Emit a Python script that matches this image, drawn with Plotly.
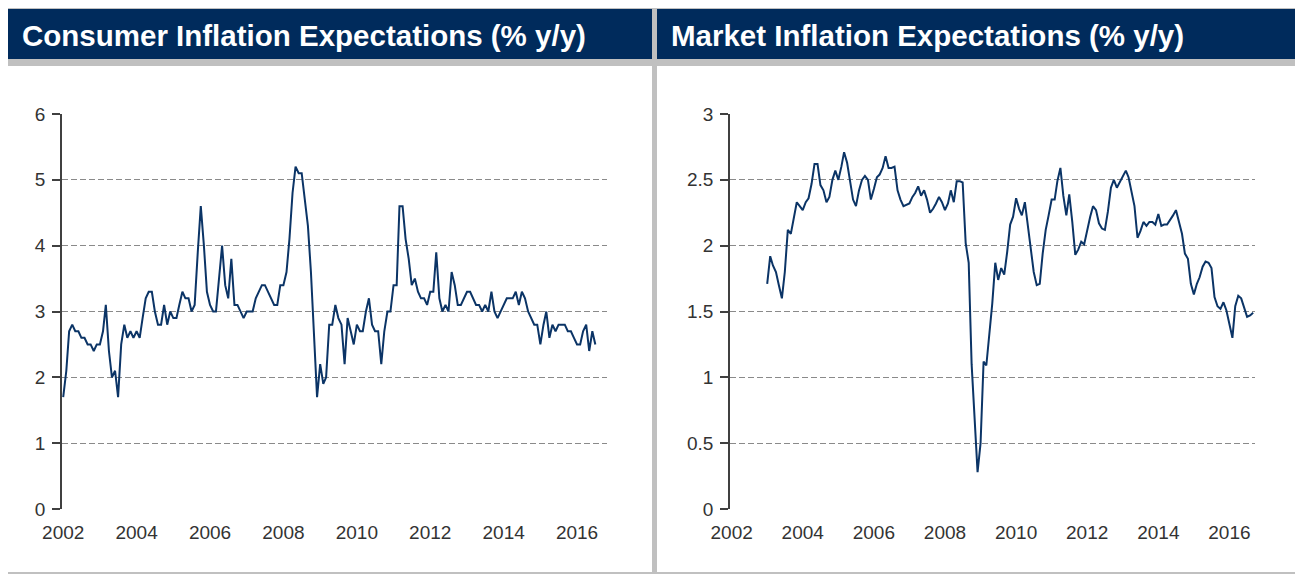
import pandas as pd
import plotly.graph_objects as go

# ---------------- data ----------------
consumer_start = "2002-01-01"
consumer_values = [
    1.7, 2.1, 2.7, 2.8, 2.7, 2.7, 2.6, 2.6, 2.5, 2.5, 2.4, 2.5,
    2.5, 2.7, 3.1, 2.4, 2.0, 2.1, 1.7, 2.5, 2.8, 2.6, 2.7, 2.6,
    2.7, 2.6, 2.9, 3.2, 3.3, 3.3, 3.0, 2.8, 2.8, 3.1, 2.8, 3.0,
    2.9, 2.9, 3.1, 3.3, 3.2, 3.2, 3.0, 3.1, 3.9, 4.6, 4.0, 3.3,
    3.1, 3.0, 3.0, 3.5, 4.0, 3.4, 3.2, 3.8, 3.1, 3.1, 3.0, 2.9,
    3.0, 3.0, 3.0, 3.2, 3.3, 3.4, 3.4, 3.3, 3.2, 3.1, 3.1, 3.4,
    3.4, 3.6, 4.1, 4.8, 5.2, 5.1, 5.1, 4.7, 4.3, 3.6, 2.6, 1.7,
    2.2, 1.9, 2.0, 2.8, 2.8, 3.1, 2.9, 2.8, 2.2, 2.9, 2.7, 2.5,
    2.8, 2.7, 2.7, 3.0, 3.2, 2.8, 2.7, 2.7, 2.2, 2.7, 3.0, 3.0,
    3.4, 3.4, 4.6, 4.6, 4.1, 3.8, 3.4, 3.5, 3.3, 3.2, 3.2, 3.1,
    3.3, 3.3, 3.9, 3.2, 3.0, 3.1, 3.0, 3.6, 3.4, 3.1, 3.1, 3.2,
    3.3, 3.3, 3.2, 3.1, 3.1, 3.0, 3.1, 3.0, 3.3, 3.0, 2.9, 3.0,
    3.1, 3.2, 3.2, 3.2, 3.3, 3.1, 3.3, 3.2, 3.0, 2.9, 2.8, 2.8,
    2.5, 2.8, 3.0, 2.6, 2.8, 2.7, 2.8, 2.8, 2.8, 2.7, 2.7, 2.6,
    2.5, 2.5, 2.7, 2.8, 2.4, 2.7, 2.5,
]

market_start = "2003-01-01"
market_values = [
    1.71, 1.92, 1.85, 1.80, 1.70, 1.60, 1.80, 2.12, 2.09, 2.22, 2.33, 2.30,
    2.27, 2.33, 2.36, 2.47, 2.62, 2.62, 2.46, 2.42, 2.33, 2.37, 2.50, 2.57,
    2.50, 2.60, 2.71, 2.63, 2.50, 2.35, 2.30, 2.42, 2.50, 2.53, 2.50, 2.35,
    2.43, 2.52, 2.54, 2.59, 2.68, 2.59, 2.59, 2.60, 2.42, 2.35, 2.30, 2.31,
    2.32, 2.37, 2.40, 2.45, 2.38, 2.42, 2.35, 2.25, 2.28, 2.32, 2.37, 2.33,
    2.27, 2.32, 2.42, 2.33, 2.49, 2.49, 2.48, 2.02, 1.87, 1.10, 0.70, 0.28,
    0.50, 1.12, 1.09, 1.33, 1.56, 1.87, 1.74, 1.83, 1.78, 1.95, 2.16, 2.22,
    2.36, 2.28, 2.23, 2.33, 2.16, 1.95, 1.80, 1.70, 1.71, 1.94, 2.12, 2.23,
    2.35, 2.35, 2.49, 2.59, 2.38, 2.23, 2.39, 2.18, 1.93, 1.97, 2.03, 2.01,
    2.13, 2.22, 2.30, 2.27, 2.17, 2.13, 2.12, 2.26, 2.44, 2.50, 2.44, 2.48,
    2.53, 2.57, 2.52, 2.41, 2.30, 2.06, 2.11, 2.18, 2.15, 2.18, 2.18, 2.16,
    2.24, 2.15, 2.16, 2.16, 2.19, 2.23, 2.27, 2.19, 2.09, 1.94, 1.90, 1.71,
    1.63, 1.71, 1.76, 1.84, 1.88, 1.87, 1.83, 1.61, 1.54, 1.52, 1.57, 1.51,
    1.40, 1.30, 1.54, 1.62, 1.60, 1.52, 1.46, 1.47, 1.49,
]

left_title = "Consumer Inflation Expectations (% y/y)"
right_title = "Market Inflation Expectations (% y/y)"
left_yticks = [0, 1, 2, 3, 4, 5, 6]
right_yticks = [0, 0.5, 1, 1.5, 2, 2.5, 3]
right_yticklabels = ["0", "0.5", "1", "1.5", "2", "2.5", "3"]

consumer_dates = pd.date_range(consumer_start, periods=len(consumer_values), freq="MS")
market_dates = pd.date_range(market_start, periods=len(market_values), freq="MS")

# ---------------- styling ----------------
# the page places the figure 8px in from the top-left corner
OFF = 8
W, H = 1303 - OFF, 574 - OFF
NAVY = "#002b5c"
LINE = "#0b3466"
GRAY_BG = "#c0c0c0"
GRID = "#8a8a8a"
AXIS = "#404040"
TXT = "#333333"
FONT = "Liberation Sans, Arial, sans-serif"


def px(x):
    return (x - OFF) / W


def py(y):
    return 1 - (y - OFF) / H


fig = go.Figure()
fig.add_trace(go.Scatter(x=consumer_dates, y=consumer_values, mode="lines",
                         line=dict(color=LINE, width=2), xaxis="x", yaxis="y",
                         showlegend=False, hoverinfo="x+y"))
fig.add_trace(go.Scatter(x=market_dates, y=market_values, mode="lines",
                         line=dict(color=LINE, width=2), xaxis="x2", yaxis="y2",
                         showlegend=False, hoverinfo="x+y"))

xcommon = dict(type="date", tickformat="%Y", dtick="M24", tick0="2002-01-01",
               showgrid=False, showline=False, ticks="", zeroline=False,
               automargin=False,
               tickfont=dict(family=FONT, size=19, color=TXT), ticklabelstandoff=10)
ycommon = dict(showgrid=True, gridcolor=GRID, gridwidth=1.2, griddash="6px,3px",
               showline=True, linecolor=AXIS, linewidth=1.5, ticks="outside",
               ticklen=8, tickcolor=AXIS, tickwidth=1.5, zeroline=False,
               automargin=False,
               tickfont=dict(family=FONT, size=19, color=TXT), ticklabelstandoff=3)

fig.update_layout(
    width=W, height=H, autosize=False,
    margin=dict(l=0, r=0, t=0, b=0, pad=0, autoexpand=False),
    paper_bgcolor=GRAY_BG,
    plot_bgcolor="rgba(0,0,0,0)",
    showlegend=False,
    xaxis=dict(domain=[px(62), px(607)], anchor="y",
               range=["2001-12-20", "2016-10-25"], **xcommon),
    yaxis=dict(domain=[py(509), py(114)], anchor="x", range=[0, 6],
               tickvals=left_yticks, **ycommon),
    xaxis2=dict(domain=[px(730), px(1255)], anchor="y2",
                range=["2001-12-15", "2016-09-20"], **xcommon),
    yaxis2=dict(domain=[py(509), py(114)], anchor="x2", range=[0, 3],
                tickvals=right_yticks, ticktext=right_yticklabels, **ycommon),
)

shapes = []
for x0, x1 in [(8, 652), (657, 1301)]:
    shapes.append(dict(type="rect", xref="paper", yref="paper", layer="below",
                       x0=px(x0), x1=px(x1), y0=py(572), y1=py(66),
                       fillcolor="white", line=dict(width=0)))
    shapes.append(dict(type="rect", xref="paper", yref="paper", layer="below",
                       x0=px(x0), x1=px(x1), y0=py(59), y1=py(9),
                       fillcolor=NAVY, line=dict(width=0)))
fig.update_layout(shapes=shapes)

for x, txt in [(20, left_title), (669, right_title)]:
    fig.add_annotation(xref="paper", yref="paper", x=px(x), y=py(35),
                       xanchor="left", yanchor="middle", showarrow=False,
                       text="<b>" + txt + "</b>",
                       font=dict(family=FONT, size=29.5, color="white"))

fig.write_html("out.html")
